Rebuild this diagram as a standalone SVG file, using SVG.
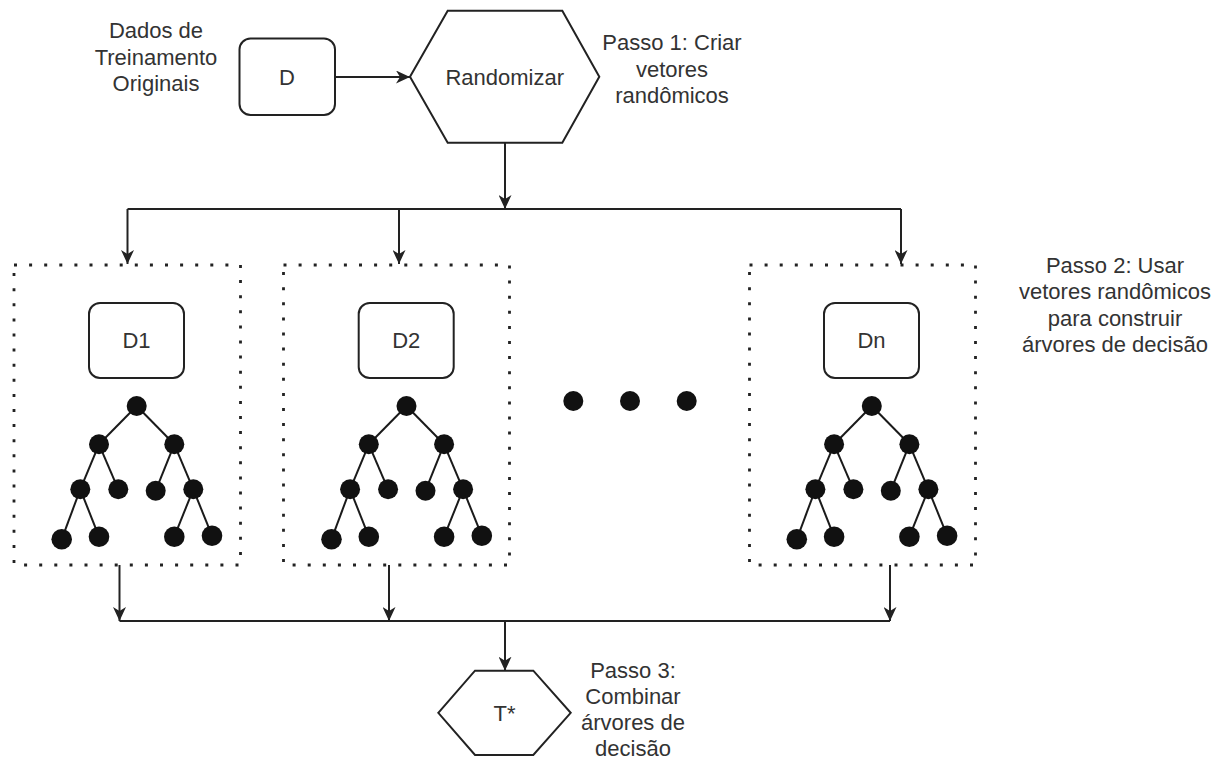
<svg xmlns="http://www.w3.org/2000/svg" width="1230" height="762" viewBox="0 0 1230 762">
  <style>
    .txt { font-family: "Liberation Sans", Arial, sans-serif; font-size: 22px; fill: #333; text-anchor: middle; }
    .box { fill: #fff; stroke: #222; stroke-width: 2; }
    .hex { fill: #fff; stroke: #222; stroke-width: 2; stroke-linejoin: miter; }
    .group { fill: none; stroke: #222; stroke-width: 2.8; stroke-dasharray: 3 12.1; }
    .edge { fill: none; stroke: #222; stroke-width: 2; }
    .branch { stroke: #1a1a1a; stroke-width: 2; }
    .leaf { fill: #111; }
  </style>
  <defs>
    <marker id="arrow" markerUnits="userSpaceOnUse" markerWidth="15" markerHeight="13" refX="14" refY="6.5" orient="auto">
      <path d="M0,0 L14,6.5 L0,13 L4,6.5 Z" fill="#222"/>
    </marker>
    <!-- binary tree drawn relative to its root node -->
    <g id="tree">
      <g class="branch">
        <line x1="0" y1="0" x2="-37.7" y2="38.3"/>
        <line x1="0" y1="0" x2="37.6" y2="38.3"/>
        <line x1="-37.7" y1="38.3" x2="-56.4" y2="83.3"/>
        <line x1="-37.7" y1="38.3" x2="-18.4" y2="83.3"/>
        <line x1="37.6" y1="38.3" x2="19" y2="84.7"/>
        <line x1="37.6" y1="38.3" x2="56.6" y2="83.3"/>
        <line x1="-56.4" y1="83.3" x2="-75" y2="133.3"/>
        <line x1="-56.4" y1="83.3" x2="-37.7" y2="130.7"/>
        <line x1="56.6" y1="83.3" x2="37.6" y2="130.7"/>
        <line x1="56.6" y1="83.3" x2="75.3" y2="129.7"/>
      </g>
      <g class="leaf">
        <circle cx="0" cy="0" r="10"/>
        <circle cx="-37.7" cy="38.3" r="10"/>
        <circle cx="37.6" cy="38.3" r="10"/>
        <circle cx="-56.4" cy="83.3" r="10"/>
        <circle cx="-18.4" cy="83.3" r="10"/>
        <circle cx="19" cy="84.7" r="10"/>
        <circle cx="56.6" cy="83.3" r="10"/>
        <circle cx="-75" cy="133.3" r="10.3"/>
        <circle cx="-37.7" cy="130.7" r="10.3"/>
        <circle cx="37.6" cy="130.7" r="10.3"/>
        <circle cx="75.3" cy="129.7" r="10.3"/>
      </g>
    </g>
  </defs>

  <!-- free-standing labels -->
  <g id="label-dados">
    <text class="txt" x="156" y="38">Dados de</text>
    <text class="txt" x="156" y="64.5">Treinamento</text>
    <text class="txt" x="156" y="91">Originais</text>
  </g>
  <g id="label-passo1">
    <text class="txt" x="672" y="50">Passo 1: Criar</text>
    <text class="txt" x="672" y="76.5">vetores</text>
    <text class="txt" x="672" y="103">randômicos</text>
  </g>
  <g id="label-passo2">
    <text class="txt" x="1115" y="272.5">Passo 2: Usar</text>
    <text class="txt" x="1115" y="299">vetores randômicos</text>
    <text class="txt" x="1115" y="325.5">para construir</text>
    <text class="txt" x="1115" y="352">árvores de decisão</text>
  </g>
  <g id="label-passo3">
    <text class="txt" x="633" y="678">Passo 3:</text>
    <text class="txt" x="633" y="704">Combinar</text>
    <text class="txt" x="633" y="730">árvores de</text>
    <text class="txt" x="633" y="756">decisão</text>
  </g>

  <!-- source data -->
  <g id="node-d">
    <rect class="box" x="239.5" y="38.5" width="95.5" height="76.5" rx="11"/>
    <text class="txt" x="287" y="85">D</text>
  </g>

  <!-- randomizer step -->
  <g id="node-randomizar">
    <polygon class="hex" points="410,76.7 447.7,10.7 562.3,10.7 599.3,76.7 562.3,142.7 447.7,142.7"/>
    <text class="txt" x="504.7" y="84.5">Randomizar</text>
  </g>

  <!-- subset 1 -->
  <g id="group-1">
    <rect class="group" x="14" y="265" width="226.5" height="300"/>
    <g id="node-d1">
      <rect class="box" x="89" y="303" width="95" height="75" rx="11"/>
      <text class="txt" x="136.5" y="348">D1</text>
    </g>
    <use href="#tree" x="136.7" y="406"/>
  </g>

  <!-- subset 2 -->
  <g id="group-2">
    <rect class="group" x="283.5" y="265" width="226" height="300"/>
    <g id="node-d2">
      <rect class="box" x="358.7" y="303" width="95" height="75" rx="11"/>
      <text class="txt" x="406.2" y="348">D2</text>
    </g>
    <use href="#tree" x="406.5" y="406"/>
  </g>

  <!-- ellipsis between subsets -->
  <g id="ellipsis" class="leaf">
    <circle cx="573.3" cy="401" r="10"/>
    <circle cx="630" cy="401" r="10"/>
    <circle cx="686.7" cy="401" r="10"/>
  </g>

  <!-- subset n -->
  <g id="group-n">
    <rect class="group" x="749.5" y="265" width="226" height="300"/>
    <g id="node-dn">
      <rect class="box" x="824" y="303" width="95" height="75" rx="11"/>
      <text class="txt" x="871.5" y="348">Dn</text>
    </g>
    <use href="#tree" x="871.8" y="406"/>
  </g>

  <!-- combined result -->
  <g id="node-tstar">
    <polygon class="hex" points="438.3,712.8 475,670.7 533.3,670.7 570.7,712.8 533.3,755 475,755"/>
    <text class="txt" x="504.5" y="720.5">T*</text>
  </g>

  <!-- connectors -->
  <g id="connectors" class="edge">
    <line x1="335" y1="77" x2="410" y2="77" marker-end="url(#arrow)"/>
    <line x1="505" y1="142.7" x2="505" y2="209" marker-end="url(#arrow)"/>
    <line x1="127.5" y1="209" x2="901" y2="209"/>
    <line x1="127.5" y1="209" x2="127.5" y2="264" marker-end="url(#arrow)"/>
    <line x1="399" y1="209" x2="399" y2="264" marker-end="url(#arrow)"/>
    <line x1="901" y1="209" x2="901" y2="264" marker-end="url(#arrow)"/>
    <line x1="119.5" y1="565" x2="119.5" y2="621" marker-end="url(#arrow)"/>
    <line x1="389" y1="565" x2="389" y2="621" marker-end="url(#arrow)"/>
    <line x1="890" y1="565" x2="890" y2="621" marker-end="url(#arrow)"/>
    <line x1="119.5" y1="621" x2="890" y2="621"/>
    <line x1="505" y1="621" x2="505" y2="670.7" marker-end="url(#arrow)"/>
  </g>
</svg>
